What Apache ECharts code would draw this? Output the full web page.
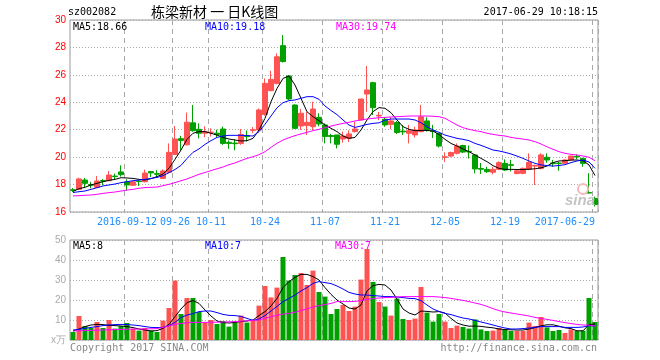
<!DOCTYPE html>
<html><head><meta charset="utf-8">
<script src="https://cdn.jsdelivr.net/npm/echarts@6/dist/echarts.min.js"></script>
<style>html,body{margin:0;padding:0;background:#fff}#c{width:660px;height:360px}</style>
</head><body><div id="c"></div>
<script>
const stockCode = 'sz002082';
const titleText = '栋梁新材 一 日K线图';
const stampText = '2017-06-29 10:18:15';
const copyText = 'Copyright 2017 SINA.COM';
const urlText = 'http://finance.sina.com.cn';

const dates = ['2016-08-30','2016-08-31','2016-09-01','2016-09-02','2016-09-05','2016-09-06','2016-09-07','2016-09-08','2016-09-09','2016-09-12',
'2016-09-13','2016-09-14','2016-09-19','2016-09-20','2016-09-21','2016-09-22','2016-09-23','2016-09-26','2016-09-27','2016-09-28',
'2016-09-29','2016-09-30','2016-10-10','2016-10-11','2016-10-12','2016-10-13','2016-10-14','2016-10-17','2016-10-18','2016-10-19',
'2016-10-20','2016-10-21','2016-10-24','2016-10-25','2016-10-26','2016-10-27','2016-10-28','2016-10-31','2016-11-01','2016-11-02',
'2016-11-03','2016-11-04','2016-11-07','2016-11-08','2016-11-09','2016-11-10','2016-11-11','2016-11-14','2016-11-15','2016-11-16',
'2016-11-17','2016-11-18','2016-11-21','2016-11-22','2016-11-23','2016-11-24','2016-11-25','2016-11-28','2016-11-29','2016-11-30',
'2016-12-01','2016-12-02','2016-12-05','2016-12-06','2016-12-07','2016-12-08','2016-12-09','2016-12-12','2016-12-13','2016-12-14',
'2016-12-15','2016-12-16','2016-12-19','2016-12-20','2016-12-21','2016-12-22','2016-12-23','2016-12-26','2016-12-27','2016-12-28',
'2016-12-29','2016-12-30','2017-01-03','2017-01-04','2017-01-05','2017-01-06','2017-01-09','2017-06-29'];

const tickDates = ['2016-09-12','2016-09-26','2016-10-11','2016-10-24','2016-11-07','2016-11-21','2016-12-05','2016-12-19','2017-06-29'];
const tickText  = ['2016-09-12','09-26','10-11','10-24','11-07','11-21','12-05','12-19','2017-06-29'];

const openP = [17.62,17.65,18.33,18.00,17.80,18.30,18.28,18.62,18.92,18.19,
17.95,18.25,18.21,18.95,18.80,18.45,18.90,20.20,21.35,20.90,
22.50,22.03,21.75,21.78,21.75,22.05,21.08,21.03,21.00,21.58,
21.95,21.98,23.12,24.85,25.38,28.13,25.92,23.80,22.27,22.30,
22.22,22.90,22.35,21.58,21.62,21.32,21.37,21.86,22.71,24.60,
25.43,23.00,22.76,22.39,22.52,21.90,21.74,21.62,21.86,22.64,
21.93,21.74,19.98,20.08,20.28,20.85,20.42,20.16,19.17,19.11,
18.90,19.11,19.55,19.45,18.80,18.82,19.11,19.35,19.18,19.99,
19.58,19.57,19.55,19.79,20.06,19.91,17.42,16.98];
const closeP = [17.58,18.41,18.09,17.95,18.26,18.25,18.70,18.58,18.72,17.97,
18.20,18.22,18.84,18.85,18.75,18.99,20.35,21.32,21.22,22.55,
21.93,21.74,21.85,21.82,21.65,21.00,21.00,20.98,21.66,21.50,
22.00,23.44,25.38,25.67,27.32,26.97,24.24,22.10,23.20,22.54,
23.51,22.42,21.50,21.50,20.94,21.54,21.69,22.05,24.24,24.90,
23.61,23.05,22.35,22.64,21.80,21.84,21.93,21.98,22.94,21.98,
21.87,20.81,20.02,20.34,20.81,20.37,20.38,19.14,19.12,18.94,
19.11,19.60,19.06,19.40,19.00,19.18,19.62,19.40,20.16,19.79,
19.52,19.53,19.79,20.08,20.02,19.55,17.38,16.55];
const lowP = [17.45,17.60,17.80,17.73,17.75,17.95,18.25,18.35,18.58,17.55,
17.90,17.90,18.16,18.55,18.50,18.40,18.83,20.15,20.50,20.85,
21.86,21.37,21.45,21.50,21.45,20.89,20.60,20.50,20.90,21.15,
21.75,21.90,23.02,24.80,25.30,26.90,24.17,22.05,21.98,21.62,
21.98,22.25,21.00,21.00,20.64,21.05,21.10,21.80,22.70,23.31,
23.07,22.70,22.22,22.05,21.69,21.62,21.00,21.43,21.81,21.86,
21.40,20.71,19.65,20.00,20.20,20.30,19.90,18.82,18.77,18.85,
18.75,19.05,19.00,18.95,18.75,18.75,19.05,17.97,19.10,19.60,
19.30,19.00,19.50,19.75,19.85,19.30,17.36,16.40];
const highP = [17.75,18.50,18.48,18.20,18.62,18.40,18.99,18.80,19.40,18.38,
18.30,18.35,19.09,18.96,19.05,19.10,21.00,22.27,21.55,23.25,
23.80,22.47,22.25,22.10,22.00,22.22,21.22,21.30,22.05,21.95,
22.20,23.55,25.74,26.30,27.56,28.90,25.95,23.85,23.51,23.31,
24.04,23.20,22.47,21.70,21.62,21.86,21.95,22.58,24.24,26.65,
25.50,23.30,22.90,22.90,22.64,22.35,22.35,22.22,23.80,22.90,
22.35,21.74,20.35,20.40,21.00,20.90,20.85,20.16,19.57,19.30,
19.30,19.70,19.84,19.80,19.08,19.25,20.28,19.45,20.28,20.28,
19.80,19.65,19.85,20.10,20.20,19.95,18.82,17.12];

const ma5 = [17.50,17.70,17.80,17.97,18.09,18.21,18.31,18.38,18.50,18.48,
18.45,18.38,18.33,18.43,18.58,18.77,19.19,19.84,20.52,21.30,
21.74,21.86,21.86,21.74,21.61,21.44,21.32,21.25,21.18,21.20,
21.37,21.98,22.83,24.04,25.01,25.74,25.92,25.26,24.29,23.31,
22.95,22.66,22.34,22.10,21.86,21.54,21.37,21.44,21.98,22.71,
23.32,23.61,23.56,23.24,22.71,22.22,22.03,21.93,21.95,21.95,
21.90,21.65,21.30,21.00,20.81,20.60,20.40,20.16,19.91,19.67,
19.38,19.18,19.11,19.11,19.10,19.10,19.12,19.15,19.22,19.35,
19.60,19.72,19.74,19.79,19.79,19.74,19.43,18.66];
const ma10 = [17.42,17.48,17.53,17.65,17.77,17.90,17.97,18.04,18.14,18.21,
18.28,18.33,18.38,18.45,18.52,18.65,18.87,19.10,19.40,19.90,
20.35,20.60,20.93,21.20,21.44,21.54,21.59,21.59,21.59,21.57,
21.54,21.86,22.40,23.00,23.60,23.97,24.12,24.17,24.29,24.41,
24.41,24.22,23.73,23.40,23.10,22.71,22.34,22.17,22.27,22.39,
22.46,22.50,22.70,22.78,22.78,22.78,22.78,22.71,22.51,22.22,
21.98,21.81,21.61,21.49,21.37,21.30,21.20,21.00,20.86,20.69,
20.52,20.45,20.35,20.23,20.08,19.91,19.72,19.55,19.43,19.39,
19.35,19.39,19.45,19.60,19.72,19.79,19.65,19.18];
const ma30 = [17.17,17.19,17.22,17.24,17.29,17.36,17.41,17.46,17.53,17.60,
17.65,17.73,17.78,17.80,17.82,17.92,18.02,18.14,18.28,18.41,
18.58,18.75,18.88,19.02,19.15,19.28,19.45,19.58,19.75,19.91,
20.03,20.18,20.40,20.71,21.01,21.25,21.42,21.57,21.69,21.81,
21.93,22.03,22.15,22.27,22.37,22.46,22.54,22.64,22.71,22.78,
22.83,22.88,22.90,22.93,22.95,22.97,23.00,23.00,23.00,23.00,
22.98,22.95,22.83,22.59,22.34,22.15,22.03,21.93,21.86,21.74,
21.66,21.59,21.54,21.44,21.37,21.32,21.25,21.13,20.96,20.76,
20.57,20.40,20.28,20.20,20.16,20.08,19.99,19.74];

const volume = [4,12,7,6,9,6,10,5.7,7,8.5,
5.7,4.7,6,4.7,4,9.7,16,29.7,13,21,
21,14,8.7,10,8,9.5,6.7,8.7,12.2,8.7,
10,17.2,27,21.3,26.2,41.5,29.7,32.5,33.5,27.5,
34.7,24,21.7,13,15.5,17.5,14.5,16.7,30.2,45.5,
29,19,16.7,12.2,20.7,10.5,10,10.7,26.5,13.7,
9.2,13,9.2,6,7.2,6.5,5.7,10.3,5.3,4.5,
4.7,6,5.3,4.5,4.5,4.5,8.7,7,11.5,6.3,
4.5,5,3.5,5.3,4.5,4.7,21,9];
const volMa5 = [4.5,5.5,6.7,7.5,7.8,7.7,7.3,7.2,7.0,6.7,
6.2,5.5,5.0,4.5,4.7,5.8,7.8,11.7,15.5,18.7,
19.7,18.3,15.0,12.0,9.5,8.7,8.5,8.8,9.2,9.5,
10.0,12.2,14.2,17.0,20.8,26.2,29.2,31.3,32.8,32.8,
31.7,30.0,26.2,22.8,20.0,18.0,16.0,15.5,17.5,24.5,
27.2,27.8,27.5,25.0,20.5,15.5,13.5,12.5,14.5,14.3,
14.0,14.2,13.5,10.8,8.5,7.5,6.9,7.0,6.8,6.4,
6.1,5.5,5.2,5.1,5.0,5.0,5.5,6.2,7.1,7.6,
7.6,6.9,6.1,5.7,4.6,4.6,7.7,8.0];
const volMa10 = [5.0,5.3,5.8,6.3,6.7,7.2,7.5,7.7,7.8,7.7,
7.5,7.2,6.7,6.3,6.2,6.3,7.2,8.8,11.2,12.5,
13.2,14.2,14.5,14.5,13.7,12.8,12.3,12.2,11.8,10.8,
9.8,10.5,12.2,14.5,16.8,19.2,20.8,22.5,24.5,26.2,
28.3,29.2,28.7,28.2,27.0,25.5,23.8,23.0,22.5,22.5,
22.2,22.0,21.7,21.7,21.5,21.2,20.8,20.7,19.7,17.5,
15.5,14.3,13.3,12.7,11.8,11.0,10.5,9.8,9.0,8.3,
7.5,6.7,6.0,5.5,5.5,5.7,6.0,6.3,6.7,6.7,
6.7,6.7,6.3,6.3,6.3,6.5,7.2,7.0];
const volMa30 = [4.5,4.6,4.7,4.8,4.9,5.0,5.1,5.2,5.3,5.4,
5.4,5.5,5.5,5.6,5.7,6.3,7.1,7.8,8.3,8.6,
8.8,8.8,8.8,8.9,8.9,9.0,9.1,9.2,9.4,9.6,
9.8,10.0,10.8,11.6,12.4,12.9,13.3,13.9,14.7,15.6,
16.5,17.2,17.7,18.3,19.2,19.2,19.2,19.3,19.7,20.3,
20.7,21.0,21.2,21.3,21.5,21.7,21.7,21.7,21.7,21.7,
21.7,21.5,21.2,20.8,20.3,19.8,19.2,18.5,17.8,16.8,
15.7,14.7,14.0,13.5,13.0,12.5,12.0,11.3,10.8,10.3,
9.8,9.2,8.7,8.2,7.8,7.5,7.5,7.0];

const UP = '#ff5252', DOWN = '#00a000';
const MONO = '"DejaVu Sans Mono", "Liberation Mono", monospace';
const last = a => a[a.length - 1];

const kData = dates.map((d, i) => [openP[i], closeP[i], lowP[i], highP[i]]);
const volData = volume.map((v, i) => ({ value: v, itemStyle: { color: closeP[i] >= openP[i] ? UP : DOWN } }));
const isTick = (idx, val) => tickDates.indexOf(val) >= 0;

function txt(x, y, text, fill, font, align) {
  return { type: 'text', x: x, y: y, silent: true, z: 100,
    style: { text: text, fill: fill, font: font, align: align || 'left', textAlign: align || 'left',
             verticalAlign: 'middle', textVerticalAlign: 'middle' } };
}

const chart = echarts.init(document.getElementById('c'), null, { renderer: 'canvas' });
const dashed = { show: true, interval: isTick, lineStyle: { color: '#a8a8a8', type: [5, 4], width: 1 } };
const dotted = { show: true, lineStyle: { color: '#aaa', type: [1, 2], width: 1 } };

chart.setOption({
  backgroundColor: '#fff',
  animation: false,
  grid: [
    { left: 70, top: 20, width: 528, height: 192, show: true, borderColor: '#999', borderWidth: 1, backgroundColor: 'transparent' },
    { left: 70, top: 240, width: 528, height: 100, show: true, borderColor: '#999', borderWidth: 1, backgroundColor: 'transparent' }
  ],
  xAxis: [
    { type: 'category', gridIndex: 0, data: dates, boundaryGap: true,
      axisLine: { show: false }, axisTick: { show: false, interval: isTick },
      axisLabel: { interval: isTick, alignMaxLabel: 'right', hideOverlap: false,
        formatter: v => tickText[tickDates.indexOf(v)] || '',
        color: '#1e8fff', fontFamily: MONO, fontSize: 10, margin: 5 },
      splitLine: dashed },
    { type: 'category', gridIndex: 1, data: dates, boundaryGap: true,
      axisLine: { show: false }, axisTick: { show: false, interval: isTick },
      axisLabel: { show: false, interval: isTick },
      splitLine: dashed }
  ],
  yAxis: [
    { type: 'value', gridIndex: 0, min: 16, max: 30, interval: 2,
      axisLine: { show: false }, axisTick: { show: false },
      axisLabel: { color: '#ff0000', fontSize: 10, fontFamily: 'Liberation Sans, Arial', margin: 4 },
      splitLine: dotted },
    { type: 'value', gridIndex: 1, min: 0, max: 50, interval: 10,
      axisLine: { show: false }, axisTick: { show: false },
      axisLabel: { color: '#aaa', fontSize: 10, fontFamily: 'Liberation Sans, Arial', margin: 4,
        formatter: v => v === 0 ? 'x万' : String(v) },
      splitLine: dotted }
  ],
  series: [
    { type: 'candlestick', xAxisIndex: 0, yAxisIndex: 0, data: kData, barWidth: 5,
      itemStyle: { color: UP, color0: DOWN, borderColor: UP, borderColor0: DOWN, borderWidth: 1 } },
    { type: 'line', xAxisIndex: 0, yAxisIndex: 0, data: ma5, symbol: 'none', silent: true, lineStyle: { color: '#000', width: 1 } },
    { type: 'line', xAxisIndex: 0, yAxisIndex: 0, data: ma10, symbol: 'none', silent: true, lineStyle: { color: '#0000ff', width: 1 } },
    { type: 'line', xAxisIndex: 0, yAxisIndex: 0, data: ma30, symbol: 'none', silent: true, lineStyle: { color: '#ff00ff', width: 1 } },
    { type: 'bar', xAxisIndex: 1, yAxisIndex: 1, data: volData, barWidth: 5 },
    { type: 'line', xAxisIndex: 1, yAxisIndex: 1, data: volMa5, symbol: 'none', silent: true, lineStyle: { color: '#000', width: 1 } },
    { type: 'line', xAxisIndex: 1, yAxisIndex: 1, data: volMa10, symbol: 'none', silent: true, lineStyle: { color: '#0000ff', width: 1 } },
    { type: 'line', xAxisIndex: 1, yAxisIndex: 1, data: volMa30, symbol: 'none', silent: true, lineStyle: { color: '#ff00ff', width: 1 } }
  ],
  graphic: [
    txt(68, 12, stockCode, '#000', '10px ' + MONO),
    txt(151, 12, titleText, '#000', '14px "Noto Sans CJK SC"'),
    txt(598, 12, stampText, '#000', '10px ' + MONO, 'right'),
    txt(73, 27, 'MA5:' + last(ma5).toFixed(2), '#000', '10px ' + MONO),
    txt(205, 27, 'MA10:' + last(ma10).toFixed(2), '#0000ff', '10px ' + MONO),
    txt(336, 27, 'MA30:' + last(ma30).toFixed(2), '#ff00ff', '10px ' + MONO),
    txt(73, 246, 'MA5:' + Math.round(last(volMa5)), '#000', '10px ' + MONO),
    txt(205, 246, 'MA10:' + Math.round(last(volMa10)), '#0000ff', '10px ' + MONO),
    txt(335, 246, 'MA30:' + Math.round(last(volMa30)), '#ff00ff', '10px ' + MONO),
    txt(70, 348, copyText, '#888', '10px ' + MONO),
    txt(597, 348, urlText, '#888', '10px ' + MONO, 'right'),
    { type: 'circle', silent: true, z: 90, shape: { cx: 583, cy: 189, r: 5 }, style: { fill: 'none', stroke: '#f6b8b8', lineWidth: 2 } },
    txt(580, 201, 'sina', '#c4c4c4', 'italic bold 15px "Liberation Sans"', 'center')
  ]
});
</script></body></html>
